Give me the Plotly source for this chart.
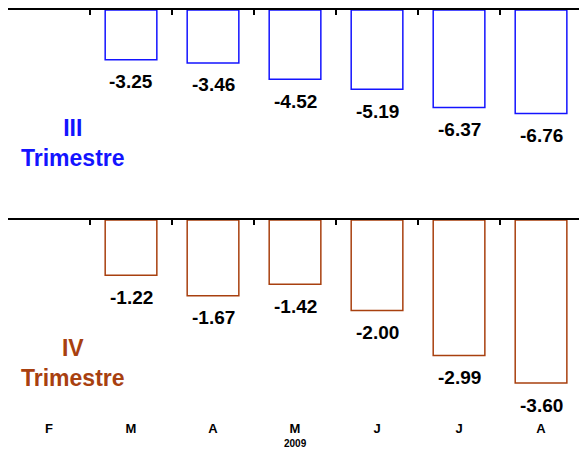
import plotly.graph_objects as go

months = ["F", "M", "A", "M", "J", "J", "A"]
year_label = "2009"
q3_values = [None, -3.25, -3.46, -4.52, -5.19, -6.37, -6.76]
q4_values = [None, -1.22, -1.67, -1.42, -2.00, -2.99, -3.60]
q3_name = "III<br>Trimestre"
q4_name = "IV<br>Trimestre"

blue = "#1414ff"
brown = "#a8400f"
xs = list(range(len(months)))

fig = go.Figure()
fig.add_trace(go.Bar(x=xs, y=q3_values, width=0.63, marker=dict(color="rgba(0,0,0,0)", line=dict(color=blue, width=1.5)),
                     xaxis="x", yaxis="y", showlegend=False, hoverinfo="skip"))
fig.add_trace(go.Bar(x=xs, y=q4_values, width=0.63, marker=dict(color="rgba(0,0,0,0)", line=dict(color=brown, width=1.5)),
                     xaxis="x2", yaxis="y2", showlegend=False, hoverinfo="skip"))

lab_font = dict(family="Liberation Sans", size=19, color="black", weight="bold")
for series, xa, ya in [(q3_values, "x", "y"), (q4_values, "x2", "y2")]:
    for x, v in zip(xs, series):
        if v is None:
            continue
        fig.add_annotation(x=x, y=v, xref=xa, yref=ya, text=f"{v:.2f}", showarrow=False,
                           yanchor="middle", yshift=-22, font=lab_font)

xr = [-0.5, 6.463]
bounds = [i - 0.5 for i in range(len(months) + 1)]
common_x = dict(range=xr, showline=True, linecolor="black", linewidth=2, ticks="inside", ticklen=5,
                tickwidth=2, tickcolor="black", tickvals=bounds, showticklabels=False, showgrid=False,
                zeroline=False, side="top", fixedrange=True, automargin=False)

fig.update_layout(
    width=579, height=449,
    margin=dict(l=8, r=0, t=10, b=34),
    plot_bgcolor="white", paper_bgcolor="white",
    xaxis=dict(anchor="y", **common_x),
    xaxis2=dict(anchor="y2", matches="x", **common_x),
    xaxis3=dict(range=xr, overlaying="x", anchor="free", position=0, side="bottom", showline=False,
                ticks="", tickvals=xs, ticktext=months, showgrid=False, zeroline=False, automargin=False,
                ticklabelstandoff=4,
                tickfont=dict(family="Liberation Sans", size=13, color="black", weight="bold")),
    yaxis=dict(domain=[0.531, 1.0], range=[-12.42, 0], visible=False, automargin=False),
    yaxis2=dict(domain=[0.0, 0.4815], range=[-4.305, 0], visible=False, automargin=False),
)
# invisible trace to activate xaxis3
fig.add_trace(go.Scatter(x=[xs[0]], y=[None], xaxis="x3", yaxis="y", showlegend=False, hoverinfo="skip"))

fig.add_annotation(x=3, xref="x", y=0, yref="paper", yanchor="top", yshift=-21, text=year_label, showarrow=False,
                   font=dict(family="Liberation Sans", size=10, color="black", weight="bold"))
fig.add_annotation(x=0.29, xref="x", y=-8.7, yref="y", text=q3_name, showarrow=False, align="center",
                   font=dict(family="Liberation Sans", size=23, color=blue, weight="bold"))
fig.add_annotation(x=0.29, xref="x2", y=-3.16, yref="y2", text=q4_name, showarrow=False, align="center",
                   font=dict(family="Liberation Sans", size=23, color=brown, weight="bold"))

fig.write_html("out.html", config={"displayModeBar": False},
               post_script="document.body.style.margin='0';document.body.style.overflow='hidden';")
